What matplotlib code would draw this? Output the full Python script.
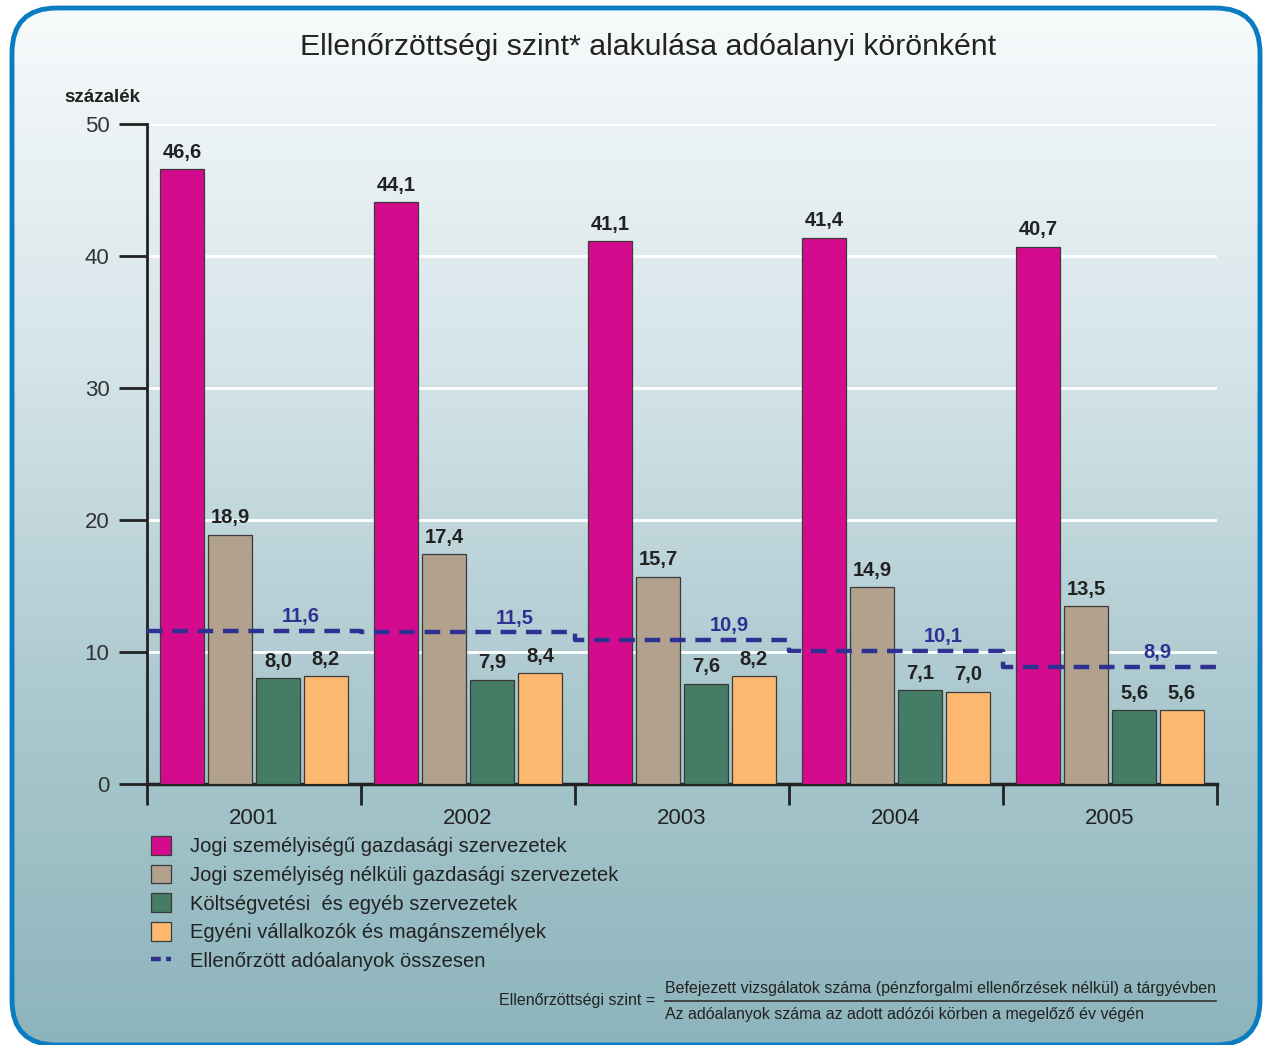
import numpy as np
import matplotlib
matplotlib.use("Agg")
import matplotlib.pyplot as plt
from matplotlib.patches import FancyBboxPatch, Patch
from matplotlib.lines import Line2D
from matplotlib.colors import LinearSegmentedColormap

years = ["2001", "2002", "2003", "2004", "2005"]
series_names = [
    "Jogi személyiségű gazdasági szervezetek",
    "Jogi személyiség nélküli gazdasági szervezetek",
    "Költségvetési  és egyéb szervezetek",
    "Egyéni vállalkozók és magánszemélyek",
]
jogi = [46.6, 44.1, 41.1, 41.4, 40.7]
nem_jogi = [18.9, 17.4, 15.7, 14.9, 13.5]
koltsegvetesi = [8.0, 7.9, 7.6, 7.1, 5.6]
egyeni = [8.2, 8.4, 8.2, 7.0, 5.6]
osszesen = [11.6, 11.5, 10.9, 10.1, 8.9]
total_name = "Ellenőrzött adóalanyok összesen"
yticks = [0, 10, 20, 30, 40, 50]
colors = ["#d40b8c", "#b1a18d", "#457c66", "#fdb870"]
line_color = "#2e3192"

FONT = ["Liberation Sans", "DejaVu Sans"]

W, H = 1264, 1045
fig = plt.figure(figsize=(W / 100, H / 100), dpi=100)

# background gradient clipped to rounded frame
bg = fig.add_axes([0, 0, 1, 1], zorder=-10)
bg.set_xlim(0, W)
bg.set_ylim(0, H)
bg.axis("off")
grad = np.linspace(0, 1, 256).reshape(-1, 1)
cmap = LinearSegmentedColormap.from_list("bg", ["#f8fafb", "#d6e5e9", "#abc9cf", "#8db4bc"])
fx0, fy0, fx1, fy1 = 12, 0, 1260, 1037
frame = FancyBboxPatch((fx0, fy0), fx1 - fx0, fy1 - fy0,
                       boxstyle="round,pad=0,rounding_size=45",
                       facecolor="none", edgecolor="#0a7cc1", lw=3.5, zorder=5)
bg.add_patch(frame)
im = bg.imshow(grad, aspect="auto", cmap=cmap, extent=[fx0, fx1, fy0, fy1], origin="upper")
im.set_clip_path(frame)
bg.set_xlim(0, W)
bg.set_ylim(0, H)

ax = fig.add_axes([147 / W, 1 - 784 / H, (1217 - 147) / W, (784 - 124) / H])
ax.set_facecolor("none")

x = np.arange(len(years))
step = 0.224
bw = 0.205
all_series = [jogi, nem_jogi, koltsegvetesi, egyeni]
for i, (vals, c) in enumerate(zip(all_series, colors)):
    pos = x + (i - 1.5) * step
    ax.bar(pos, vals, width=bw, color=c, edgecolor="#3a3a3a", lw=0.9, zorder=3)
    for p, v in zip(pos, vals):
        ax.text(p, v + 0.55, f"{v:.1f}".replace(".", ","), ha="center", va="bottom",
                fontsize=14.5, fontweight="bold", color="#222222", family=FONT, zorder=4)

# step dashed line
xe = np.concatenate([x - 0.5, [x[-1] + 0.5]])
ye = osszesen + [osszesen[-1]]
ax.plot(xe, ye, drawstyle="steps-post", color=line_color, lw=3.2,
        dashes=(3.5, 2.2), zorder=5, solid_capstyle="butt")
for xi, v in zip(x, osszesen):
    ax.text(xi + 0.22, v + 0.35, f"{v:.1f}".replace(".", ","), ha="center", va="bottom",
            fontsize=14.5, fontweight="bold", color=line_color, family=FONT, zorder=6)

ax.set_xlim(-0.5, 4.5)
ax.set_ylim(0, 50)
ax.set_yticks(yticks)
ax.set_yticklabels([str(t) for t in yticks], fontsize=16, color="#333333", family=FONT)
ax.tick_params(axis="y", length=20, width=2, color="#222222", pad=7, direction="out")
for yv in yticks[1:]:
    ax.axhline(yv, color="white", lw=2, zorder=1)
ax.set_xticks(np.arange(-0.5, 5.0, 1.0))
ax.set_xticklabels([])
ax.set_xticks(x, minor=True)
ax.set_xticklabels(years, minor=True, fontsize=16, family=FONT, color="#222222")
ax.tick_params(axis="x", which="major", length=15, width=2, color="#222222", direction="out")
ax.tick_params(axis="x", which="minor", length=0, pad=17)
for s in ["top", "right"]:
    ax.spines[s].set_visible(False)
ax.spines["left"].set_linewidth(2)
ax.spines["left"].set_color("#222222")
ax.spines["bottom"].set_linewidth(2.5)
ax.spines["bottom"].set_color("#222222")

fig.text(64 / W, 1 - 97 / H, "százalék", fontsize=13.5, fontweight="bold", va="center",
         ha="left", color="#222222", family=FONT)
fig.text(648 / W, 1 - 47 / H, "Ellenőrzöttségi szint* alakulása adóalanyi körönként",
         fontsize=21.8, ha="center", va="center", color="#222222", family=FONT)

handles = [Patch(facecolor=c, edgecolor="#3a3a3a", lw=0.9) for c in colors]
handles.append(Line2D([0], [0], color=line_color, lw=3.2, dashes=(2.2, 1.2)))
leg = fig.legend(handles, series_names + [total_name], loc="upper left",
                 bbox_to_anchor=(151 / W, 1 - 836 / H), frameon=False,
                 prop={"family": FONT, "size": 14.5}, handlelength=1.0, handleheight=1.05,
                 handletextpad=0.95, labelspacing=0.42, borderaxespad=0, borderpad=0)
for t in leg.get_texts():
    t.set_color("#222222")

fig.text(655 / W, 1 - 1000 / H, "Ellenőrzöttségi szint =", fontsize=11.5, ha="right",
         va="center", family=FONT, color="#222222")
fig.text(665 / W, 1 - 989 / H,
         "Befejezett vizsgálatok száma (pénzforgalmi ellenőrzések nélkül) a tárgyévben",
         fontsize=11.5, ha="left", va="center", family=FONT, color="#222222")
fig.text(665 / W, 1 - 1014 / H, "Az adóalanyok száma az adott adózói körben a megelőző év végén",
         fontsize=11.5, ha="left", va="center", family=FONT, color="#222222")
fig.add_artist(Line2D([665 / W, 1216 / W], [1 - 1001 / H, 1 - 1001 / H], color="#333333",
                      lw=1.2, transform=fig.transFigure))

fig.savefig("out.png", dpi=100)
